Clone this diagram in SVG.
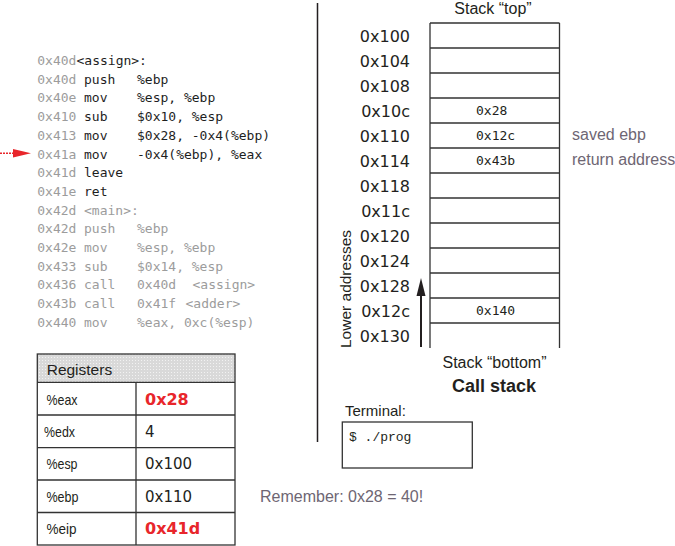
<svg xmlns="http://www.w3.org/2000/svg" width="675" height="546" viewBox="0 0 675 546">
<style>
.code{font-family:"DejaVu Sans Mono","Liberation Mono",monospace;font-size:13px;}
.g{fill:#9c9c9c;}
.k{fill:#1e1e1e;}
.lbl{font-family:"Liberation Sans",Arial,sans-serif;fill:#231f20;}
.num{font-family:"DejaVu Sans","Liberation Sans",sans-serif;fill:#231f20;}
.red{font-family:"DejaVu Sans","Liberation Sans",sans-serif;font-weight:bold;font-size:16px;fill:#e8262b;}
.note{font-family:"Liberation Sans",Arial,sans-serif;font-size:16px;fill:#6e6673;}
.cell{fill:none;stroke:#333;stroke-width:1.3;}
.mono{font-family:"DejaVu Sans Mono","Liberation Mono",monospace;font-size:13px;fill:#231f20;}
</style>
<defs>
<pattern id="dots" width="3" height="3" patternUnits="userSpaceOnUse">
<rect width="3" height="3" fill="#d9d9d9"/>
<rect width="1" height="1" fill="#f2f2f2"/>
</pattern>
</defs>

<g id="code" class="code">
<text y="65"><tspan x="37.3" class="g">0x40d</tspan><tspan x="76.5" class="k">&lt;assign&gt;:</tspan></text>
<text y="83.7"><tspan x="37.3" class="g">0x40d</tspan><tspan x="84" class="k">push</tspan><tspan x="137" class="k">%ebp</tspan></text>
<text y="102.4"><tspan x="37.3" class="g">0x40e</tspan><tspan x="84" class="k">mov</tspan><tspan x="137" class="k">%esp, %ebp</tspan></text>
<text y="121.1"><tspan x="37.3" class="g">0x410</tspan><tspan x="84" class="k">sub</tspan><tspan x="137" class="k">$0x10, %esp</tspan></text>
<text y="139.8"><tspan x="37.3" class="g">0x413</tspan><tspan x="84" class="k">mov</tspan><tspan x="137" class="k">$0x28, -0x4(%ebp)</tspan></text>
<text y="158.5"><tspan x="37.3" class="g">0x41a</tspan><tspan x="84" class="k">mov</tspan><tspan x="137" class="k">-0x4(%ebp), %eax</tspan></text>
<text y="177.2"><tspan x="37.3" class="g">0x41d</tspan><tspan x="84" class="k">leave</tspan></text>
<text y="195.9"><tspan x="37.3" class="g">0x41e</tspan><tspan x="84" class="k">ret</tspan></text>
<text y="214.6" class="g"><tspan x="37.3">0x42d</tspan><tspan x="84">&lt;main&gt;:</tspan></text>
<text y="233.3" class="g"><tspan x="37.3">0x42d</tspan><tspan x="84">push</tspan><tspan x="137">%ebp</tspan></text>
<text y="252" class="g"><tspan x="37.3">0x42e</tspan><tspan x="84">mov</tspan><tspan x="137">%esp, %ebp</tspan></text>
<text y="270.7" class="g"><tspan x="37.3">0x433</tspan><tspan x="84">sub</tspan><tspan x="137">$0x14, %esp</tspan></text>
<text y="289.4" class="g"><tspan x="37.3">0x436</tspan><tspan x="84">call</tspan><tspan x="137">0x40d</tspan><tspan x="192.5">&lt;assign&gt;</tspan></text>
<text y="308.1" class="g"><tspan x="37.3">0x43b</tspan><tspan x="84">call</tspan><tspan x="137">0x41f</tspan><tspan x="185.5">&lt;adder&gt;</tspan></text>
<text y="326.8" class="g"><tspan x="37.3">0x440</tspan><tspan x="84">mov</tspan><tspan x="137">%eax, 0xc(%esp)</tspan></text>
</g>

<g id="registers">
<rect x="37.3" y="354" width="197.7" height="28.3" fill="url(#dots)"/>
<rect x="37.3" y="354" width="197.7" height="191" class="cell"/>
<path class="cell" d="M37.3 382.3H235M37.3 415H235M37.3 447.7H235M37.3 480H235M37.3 512.5H235M136 382.3V545"/>
<text class="lbl" x="46.7" y="375" font-size="15.5">Registers</text>
<text class="lbl" x="46.5" y="405" font-size="15" textLength="31" lengthAdjust="spacingAndGlyphs">%eax</text>
<text class="lbl" x="44" y="437" font-size="15" textLength="31" lengthAdjust="spacingAndGlyphs">%edx</text>
<text class="lbl" x="46.5" y="469" font-size="15" textLength="31" lengthAdjust="spacingAndGlyphs">%esp</text>
<text class="lbl" x="46.5" y="502" font-size="15" textLength="32" lengthAdjust="spacingAndGlyphs">%ebp</text>
<text class="lbl" x="46.5" y="534" font-size="15" textLength="30" lengthAdjust="spacingAndGlyphs">%eip</text>
<text class="red" x="145" y="405">0x28</text>
<text class="num" x="145" y="437" font-size="15">4</text>
<text class="num" x="145" y="469" font-size="15">0x100</text>
<text class="num" x="145" y="502" font-size="15">0x110</text>
<text class="red" x="145" y="534">0x41d</text>
</g>

<g id="divider">
<line x1="317.5" y1="3" x2="317.5" y2="442" stroke="#231f20" stroke-width="1.5"/>
</g>

<g id="stack">
<text class="lbl" x="493" y="14" font-size="16" text-anchor="middle">Stack “top”</text>
<path class="cell" d="M430 23H559.5M430 48H559.5M430 73H559.5M430 98H559.5M430 123H559.5M430 148H559.5M430 173H559.5M430 198H559.5M430 223H559.5M430 248H559.5M430 273H559.5M430 298H559.5M430 323H559.5M430 23V348M559.5 23V348"/>
<g class="num" font-size="16" text-anchor="end">
<text x="410" y="41.5">0x100</text>
<text x="410" y="66.5">0x104</text>
<text x="410" y="91.5">0x108</text>
<text x="410" y="116.5">0x10c</text>
<text x="410" y="141.5">0x110</text>
<text x="410" y="166.5">0x114</text>
<text x="410" y="191.5">0x118</text>
<text x="410" y="216.5">0x11c</text>
<text x="410" y="241.5">0x120</text>
<text x="410" y="266.5">0x124</text>
<text x="410" y="291.5">0x128</text>
<text x="410" y="316.5">0x12c</text>
<text x="410" y="341.5">0x130</text>
</g>
<text class="mono" x="476" y="115">0x28</text>
<text class="mono" x="476" y="140">0x12c</text>
<text class="mono" x="476" y="165">0x43b</text>
<text class="mono" x="476" y="315">0x140</text>
<text class="note" x="572" y="140">saved ebp</text>
<text class="note" x="572" y="165">return address</text>
<text class="lbl" font-size="15.5" text-anchor="middle" transform="translate(351 289) rotate(-90)">Lower addresses</text>
<text class="lbl" x="494.5" y="368" font-size="16" text-anchor="middle">Stack “bottom”</text>
<text class="lbl" x="494" y="392" font-size="18" font-weight="bold" text-anchor="middle">Call stack</text>
</g>

<g id="terminal">
<text class="lbl" x="345" y="416.3" font-size="15">Terminal:</text>
<rect x="342.3" y="422" width="130" height="46" class="cell"/>
<text x="349" y="441.3" font-family="Liberation Mono, monospace" font-size="13" fill="#231f20">$ ./prog</text>
</g>

<g id="remember">
<text class="note" x="260" y="501.7">Remember: 0x28 = 40!</text>
</g>

<g id="connectors">
<line x1="0" y1="153.3" x2="15" y2="153.3" stroke="#e8262b" stroke-width="1.6" stroke-dasharray="2 1"/>
<polygon points="13,149 31,153.3 13,157.6" fill="#e8262b"/>
<line x1="421" y1="347" x2="421" y2="292" stroke="#231f20" stroke-width="2"/>
<polygon points="421,278 416.5,296 425.5,296" fill="#231f20"/>
</g>
</svg>
